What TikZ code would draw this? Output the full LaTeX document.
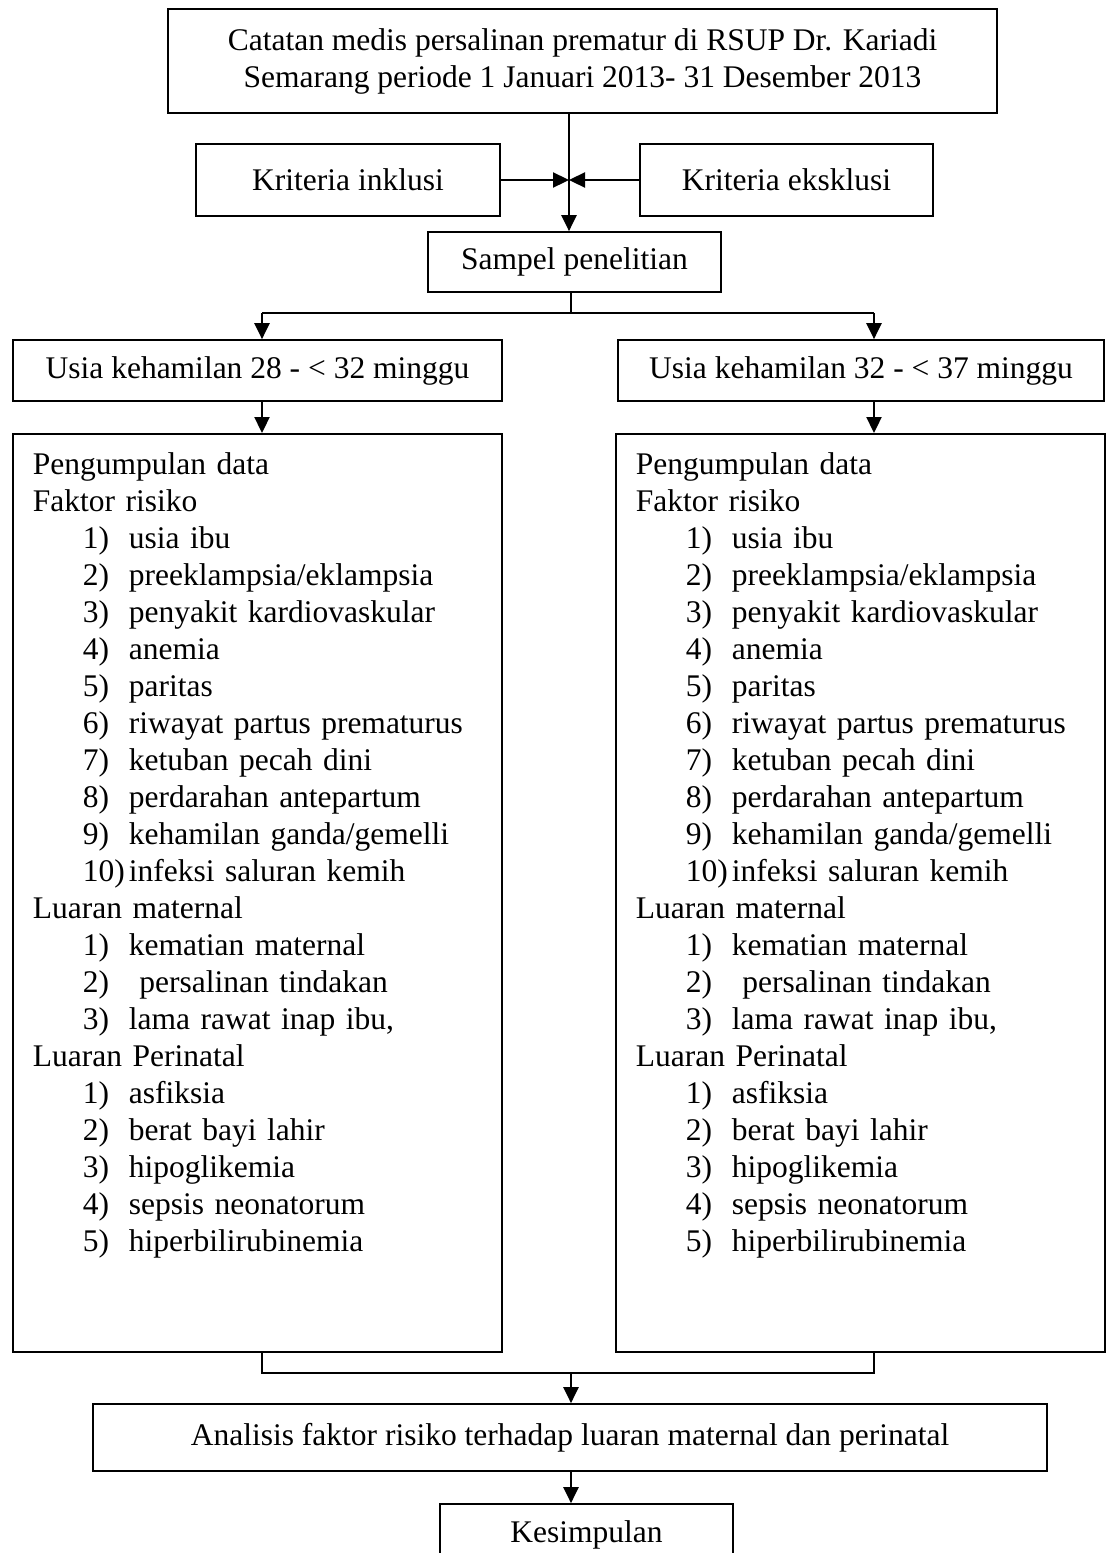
\documentclass[tikz,border=0pt]{standalone}
\usepackage{fontspec}
\setmainfont{Liberation Serif}
\usetikzlibrary{arrows.meta,calc}
\tikzset{
	box/.style={draw, line width=1.7pt, inner sep=0pt, align=center},
	listbox/.style={draw, line width=1.7pt, anchor=north west, align=left,
			text width=449pt, inner xsep=20pt, inner ysep=0pt,
			text height=41pt, text depth=877pt},
	flow/.style={line width=2.3pt, -{Triangle[length=16pt,width=15pt]}},
	link/.style={line width=1.8pt}
}
\newcommand{\nitem}[2]{\hspace*{50pt}\makebox[46pt][l]{#1}#2}
\newcommand{\datalist}{%
	Pengumpulan data\\
	Faktor risiko\\
	\nitem{1)}{usia ibu}\\
	\nitem{2)}{preeklampsia/eklampsia}\\
	\nitem{3)}{penyakit kardiovaskular}\\
	\nitem{4)}{anemia}\\
	\nitem{5)}{paritas}\\
	\nitem{6)}{riwayat partus prematurus}\\
	\nitem{7)}{ketuban pecah dini}\\
	\nitem{8)}{perdarahan antepartum}\\
	\nitem{9)}{kehamilan ganda/gemelli}\\
	\nitem{10)}{infeksi saluran kemih}\\
	Luaran maternal\\
	\nitem{1)}{kematian maternal}\\
	\nitem{2)}{\ persalinan tindakan}\\
	\nitem{3)}{lama rawat inap ibu,}\\
	Luaran Perinatal\\
	\nitem{1)}{asfiksia}\\
	\nitem{2)}{berat bayi lahir}\\
	\nitem{3)}{hipoglikemia}\\
	\nitem{4)}{sepsis neonatorum}\\
	\nitem{5)}{hiperbilirubinemia}}

\begin{document}
\begin{tikzpicture}[x=1pt, y=-1pt, font=\fontsize{31.5}{37}\selectfont]
	\useasboundingbox (0,0) rectangle (1110,1553);
	% Boxes
	\node[box, minimum width=829pt, minimum height=104pt] (records) at (582.5,61)
		{Catatan medis persalinan prematur di RSUP Dr. Kariadi\\Semarang periode 1 Januari 2013- 31 Desember 2013};
	\node[box, minimum width=304pt, minimum height=72pt] (inclusion) at (348,180) {Kriteria inklusi};
	\node[box, minimum width=293pt, minimum height=72pt] (exclusion) at (786.5,180) {Kriteria eksklusi};
	\node[box, minimum width=293pt, minimum height=60pt] (sample) at (574.5,262) {Sampel penelitian};
	\node[box, minimum width=489pt, minimum height=61pt] (agelow) at (257.5,370.5) {Usia kehamilan 28 - < 32 minggu};
	\node[box, minimum width=486pt, minimum height=61pt] (agehigh) at (861,370.5) {Usia kehamilan 32 - < 37 minggu};
	\node[listbox] (datalow) at (12,433) {\datalist};
	\node[listbox] (datahigh) at (615,433) {\datalist};
	\node[box, minimum width=954pt, minimum height=67pt] (analysis) at (570,1437.5)
		{Analisis faktor risiko terhadap luaran maternal dan perinatal};
	\node[box, minimum width=293pt, minimum height=62pt] (conclusion) at (586.5,1535) {Kesimpulan};
	% Connectors
	\coordinate (spine) at (569,180);
	\coordinate (fork) at (571,313);
	\coordinate (join) at (571,1373);
	\coordinate (lowx) at (262,0);
	\coordinate (highx) at (874,0);
	\draw[flow] (records.south -| spine) -- (sample.north -| spine);
	\draw[flow] (inclusion.east) -- (spine);
	\draw[flow] (exclusion.west) -- (spine);
	\draw[link] (sample.south -| fork) -- (fork);
	\draw[link] (lowx |- fork) -- (highx |- fork);
	\draw[flow] (lowx |- fork) -- (lowx |- agelow.north);
	\draw[flow] (highx |- fork) -- (highx |- agehigh.north);
	\draw[flow] (lowx |- agelow.south) -- (lowx |- datalow.north);
	\draw[flow] (highx |- agehigh.south) -- (highx |- datahigh.north);
	\draw[link] (lowx |- datalow.south) |- (join) -| (highx |- datahigh.south);
	\draw[flow] (join) -- (join |- analysis.north);
	\draw[flow] (analysis.south -| join) -- (conclusion.north -| join);
\end{tikzpicture}
\end{document}
